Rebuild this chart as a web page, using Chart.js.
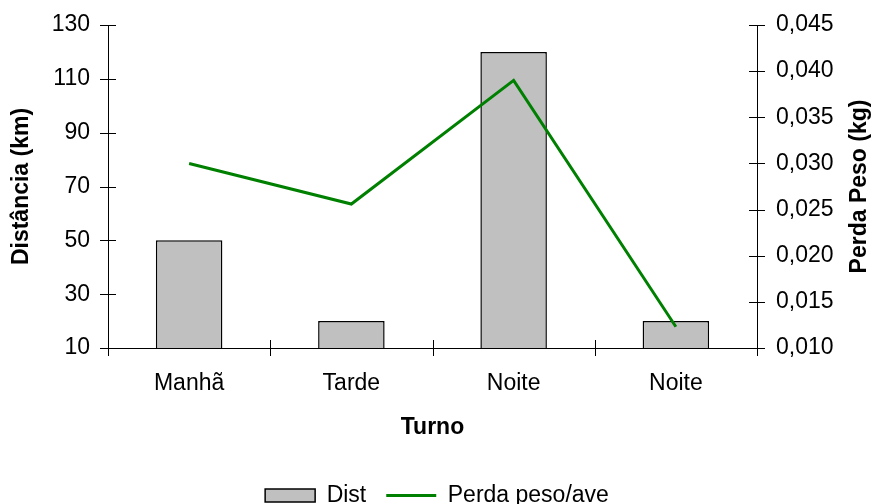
<!DOCTYPE html>
<html>
<head>
<meta charset="utf-8">
<script src="https://cdn.jsdelivr.net/npm/chart.js@4/dist/chart.umd.min.js"></script>
<style>
  html, body { margin: 0; padding: 0; background: #fff; }
  #wrap { width: 874px; height: 504px; }
</style>
</head>
<body>
<div id="wrap"><canvas id="chart"></canvas></div>
<script>
const categories = ['Manhã', 'Tarde', 'Noite', 'Noite'];
const distValues = [50, 20, 120, 20];
const perdaValues = [0.030, 0.0256, 0.0390, 0.0123];

const FONT = 'Liberation Sans, Arial, sans-serif';

// tick marks that cross the axis line, like the spreadsheet original
const crossTicks = {
    id: 'crossTicks',
    afterDatasetsDraw(chart) {
        const { ctx, chartArea, scales } = chart;
        ctx.save();
        ctx.strokeStyle = '#000';
        ctx.lineWidth = 1;
        ctx.beginPath();
        scales.y.ticks.forEach((t, i) => {
            const py = Math.round(scales.y.getPixelForTick(i)) + 0.5;
            ctx.moveTo(chartArea.left - 8, py);
            ctx.lineTo(chartArea.left + 8, py);
        });
        scales.y1.ticks.forEach((t, i) => {
            const py = Math.round(scales.y1.getPixelForTick(i)) + 0.5;
            ctx.moveTo(chartArea.right - 8, py);
            ctx.lineTo(chartArea.right + 8, py);
        });
        for (let i = 0; i <= categories.length; i++) {
            const px = Math.round(scales.x.getPixelForValue(i - 0.5)) + 0.5;
            ctx.moveTo(px, chartArea.bottom - 8);
            ctx.lineTo(px, chartArea.bottom + 8);
        }
        ctx.stroke();

        // right axis title, reading bottom to top
        ctx.fillStyle = '#000';
        ctx.font = 'bold 23px ' + FONT;
        ctx.textAlign = 'center';
        ctx.textBaseline = 'middle';
        ctx.translate(860, (chartArea.top + chartArea.bottom) / 2);
        ctx.rotate(-Math.PI / 2);
        ctx.fillText('Perda Peso (kg)', 0, 0);
        ctx.restore();
    }
};

Chart.defaults.color = '#000';
Chart.defaults.font.family = FONT;
Chart.defaults.font.size = 23;

new Chart(document.getElementById('chart'), {
    type: 'bar',
    data: {
        labels: categories,
        datasets: [{
            type: 'bar',
            label: 'Dist',
            data: distValues,
            yAxisID: 'y',
            backgroundColor: '#c0c0c0',
            borderColor: '#000',
            borderWidth: 1.5,
            barPercentage: 0.41,
            categoryPercentage: 1,
            pointStyle: 'rect',
            order: 2
        }, {
            type: 'line',
            label: 'Perda peso/ave',
            data: perdaValues,
            yAxisID: 'y1',
            borderColor: '#008000',
            backgroundColor: '#008000',
            borderWidth: 3,
            pointRadius: 0,
            pointStyle: 'line',
            tension: 0,
            order: 1
        }]
    },
    options: {
        responsive: true,
        maintainAspectRatio: false,
        animation: false,
        layout: { padding: { top: 25, left: 0, right: 0, bottom: -13 } },
        plugins: {
            legend: {
                position: 'bottom',
                labels: {
                    usePointStyle: true,
                    pointStyleWidth: 50,
                    boxHeight: 13,
                    padding: 20,
                    font: { size: 23 },
                    sort: (a, b) => a.datasetIndex - b.datasetIndex
                }
            },
            tooltip: { enabled: false }
        },
        scales: {
            x: {
                grid: { display: false, drawTicks: false },
                border: { display: true, color: '#000', width: 1 },
                ticks: { padding: 22, font: { size: 23 } },
                title: { display: true, text: 'Turno', font: { size: 23, weight: 'bold' }, padding: { top: 0, bottom: 23 } },
                afterFit(scale) { scale.height = 116; }
            },
            y: {
                position: 'left',
                min: 10,
                max: 130,
                ticks: { stepSize: 20, padding: 18, font: { size: 23 } },
                grid: { display: false, drawTicks: false },
                border: { display: true, color: '#000', width: 1 },
                title: { display: true, text: 'Distância (km)', font: { size: 23, weight: 'bold' }, padding: { top: 8, bottom: 0 } },
                afterFit(scale) {
                    scale.width = 108;
                    scale.paddingTop = 0;
                    scale.paddingBottom = 0;
                }
            },
            y1: {
                position: 'right',
                min: 0.010,
                max: 0.045,
                ticks: {
                    stepSize: 0.005,
                    padding: 19,
                    font: { size: 23 },
                    callback: (v) => v.toFixed(3).replace('.', ',')
                },
                grid: { display: false, drawTicks: false },
                border: { display: true, color: '#000', width: 1 },
                afterFit(scale) {
                    scale.width = 117;
                    scale.paddingTop = 0;
                    scale.paddingBottom = 0;
                }
            }
        }
    },
    plugins: [crossTicks]
});
</script>
</body>
</html>
